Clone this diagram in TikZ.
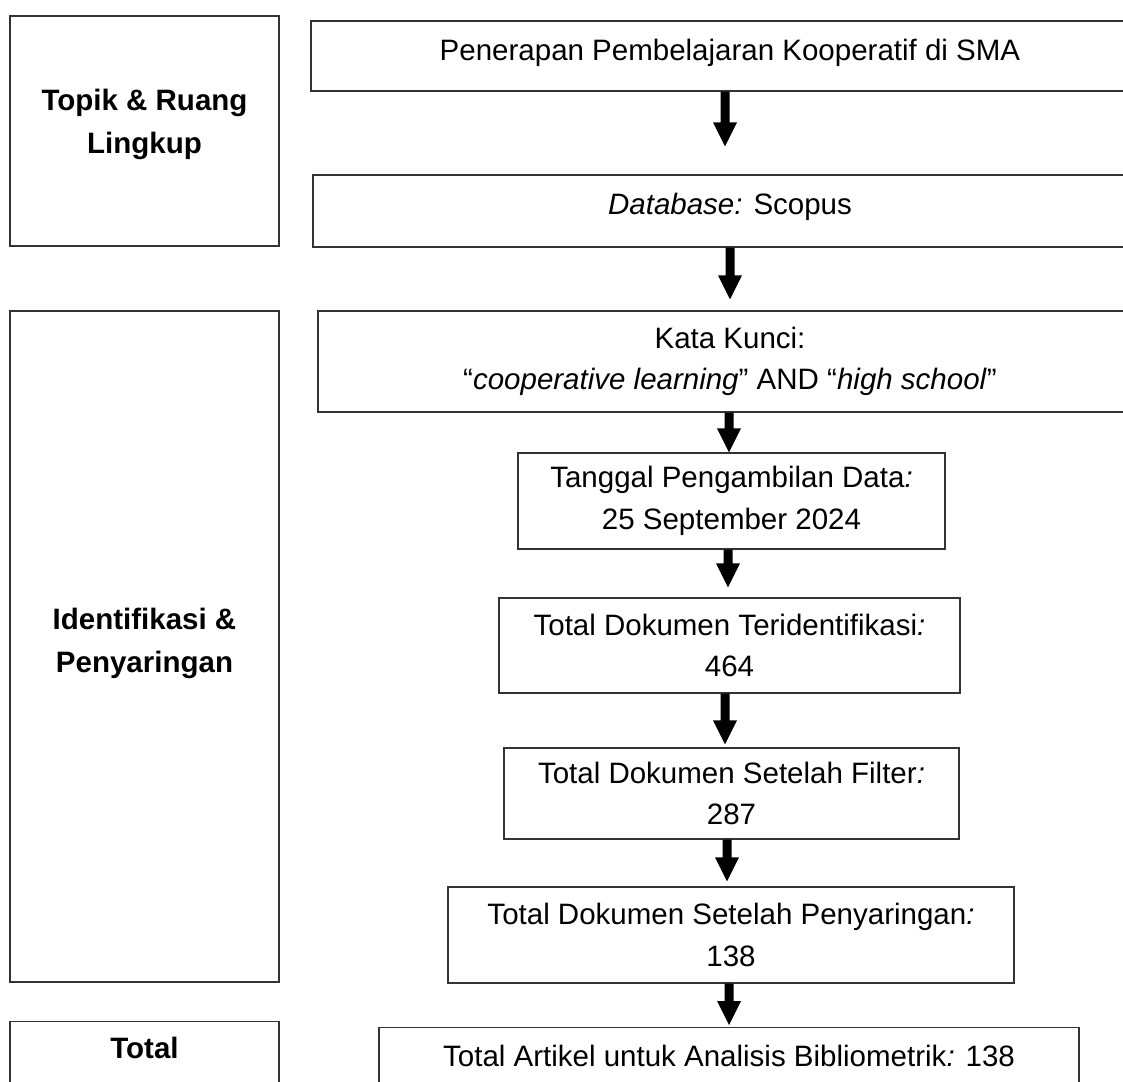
\documentclass[tikz,border=0pt]{standalone}
\usepackage{fontspec}
\setmainfont{Liberation Sans}
\usetikzlibrary{calc}
\tikzset{
  box/.style={draw=black!80, line width=1.2pt, fill=white, inner sep=0pt, align=center,
    font=\fontsize{29.5}{41.5}\selectfont},
  txt/.style={inner sep=0pt, align=center, font=\fontsize{29.5}{41.5}\selectfont},
  sidetxt/.style={txt, font=\fontsize{29.5}{43}\selectfont\bfseries},
  arrowfill/.style={fill=black}
}
\newcommand\blockarr[2]{\fill[arrowfill] let \p1=#1, \p2=#2 in
  (\x1-4.5pt,\y1) -- (\x1+4.5pt,\y1) -- (\x1+4.5pt,\y2+24pt) -- (\x1+12pt,\y2+24pt)
  -- (\x1,\y2) -- (\x1-12pt,\y2+24pt) -- (\x1-4.5pt,\y2+24pt) -- cycle;}
\begin{document}
\begin{tikzpicture}[x=1pt,y=-1pt]
\useasboundingbox (0,0) rectangle (1123,1081);
\clip (0,0) rectangle (1123,1081);
\fill[white] (0,0) rectangle (1123,1081);

% left column
\node[box, minimum width=269pt, minimum height=230pt] (L1) at (144.5,131) {};
\node[sidetxt] (L1t) at (144.5,124) {Topik \& Ruang\\Lingkup};
\node[box, minimum width=269pt, minimum height=671pt] (L2) at (144.5,646.5) {};
\node[sidetxt] (L2t) at (144.5,643) {Identifikasi \&\\Penyaringan};
\node[box, minimum width=269pt, minimum height=120pt, anchor=north] (L3) at (144.5,1021) {};
\node[sidetxt] (L3t) at (144.5,1048) {Total};

% right column
\node[box, minimum width=838pt, minimum height=70pt] (b1) at (730,56) {};
\node[txt] (b1t) at (730,53) {Penerapan Pembelajaran Kooperatif di SMA};
\node[box, minimum width=834pt, minimum height=72pt] (b2) at (730,211) {};
\node[txt] (b2t) at (730,207) {\textit{Database:} Scopus};
\node[box, minimum width=824pt, minimum height=101pt] (b3) at (730,361.5) {Kata Kunci:\\“\textit{cooperative learning}” AND “\textit{high school}”};
\node[box, minimum width=427pt, minimum height=96pt] (b4) at (731.5,501) {Tanggal Pengambilan Data\textit{:}\\25 September 2024};
\node[box, minimum width=461pt, minimum height=95pt] (b5) at (729.5,645.5) {Total Dokumen Teridentifikasi\textit{:}\\464};
\node[box, minimum width=455pt, minimum height=91pt] (b6) at (731.5,793.5) {Total Dokumen Setelah Filter\textit{:}\\287};
\node[box, minimum width=566pt, minimum height=96pt] (b7) at (731,935) {Total Dokumen Setelah Penyaringan\textit{:}\\138};
\node[box, minimum width=700pt, minimum height=120pt, anchor=north] (b8) at (729,1027) {};
\node[txt] (b8t) at (729,1056) {Total Artikel untuk Analisis Bibliometrik\textit{:} 138};

% arrows
\blockarr{([xshift=-5pt]b1.south)}{([xshift=-5pt,yshift=28pt]b2.north)}
\blockarr{(b2.south)}{([yshift=11pt]b2.north |- b3.north)}
\blockarr{([xshift=-1pt]b3.south)}{([xshift=-1pt]b3.south |- b4.north)}
\blockarr{([xshift=-3.5pt]b4.south)}{([xshift=-3.5pt,yshift=10pt]b4.south |- b5.north)}
\blockarr{([xshift=-4.5pt]b5.south)}{([xshift=-4.5pt,yshift=3pt]b5.south |- b6.north)}
\blockarr{([xshift=-4.5pt]b6.south)}{([xshift=-4.5pt,yshift=5pt]b6.south |- b7.north)}
\blockarr{([xshift=-2pt]b7.south)}{([xshift=-2pt,yshift=2pt]b7.south |- b8.north)}
\end{tikzpicture}
\end{document}
